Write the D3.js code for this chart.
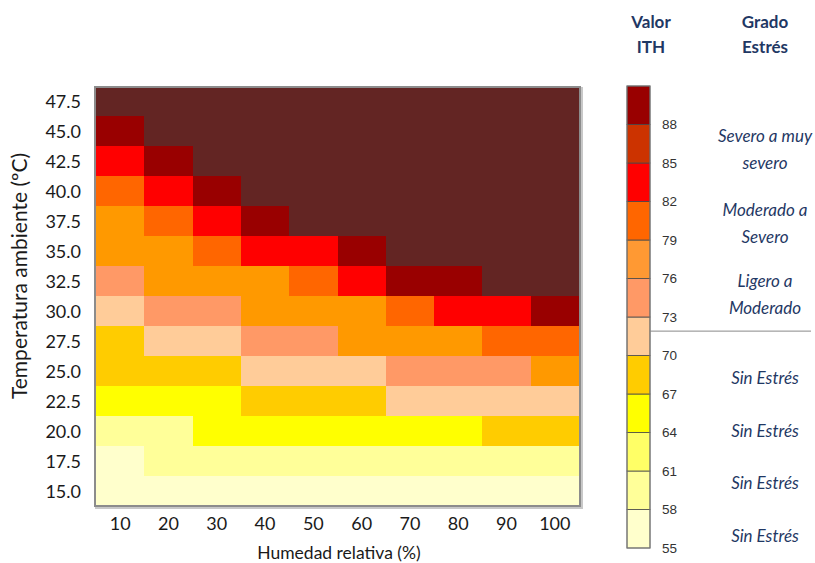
<!DOCTYPE html>
<html>
<head>
<meta charset="utf-8">
<script src="https://cdn.jsdelivr.net/npm/d3@7"></script>
<style>
  body { margin: 0; background: #fff; }
  svg { display: block; }
</style>
</head>
<body>
<div id="chart"></div>
<script>
// humidity (%) columns and temperature (ºC) rows, bottom to top
var humidity = [10, 20, 30, 40, 50, 60, 70, 80, 90, 100];
var temps = [15.0, 17.5, 20.0, 22.5, 25.0, 27.5, 30.0, 32.5, 35.0, 37.5, 40.0, 42.5, 45.0, 47.5];

// colour classes used in the heat map (lowest to highest ITH)
var heatColors = ["#ffffcc", "#ffff99", "#ffff00", "#ffcc00", "#ffcc99", "#ff9966",
                  "#ff9900", "#ff6600", "#ff0000", "#990000", "#632523"];

// class index per cell, one row per temperature (same order as temps)
var levels = [
  [0, 0, 0, 0, 0, 0, 0, 0, 0, 0],
  [0, 1, 1, 1, 1, 1, 1, 1, 1, 1],
  [1, 1, 2, 2, 2, 2, 2, 2, 3, 3],
  [2, 2, 2, 3, 3, 3, 4, 4, 4, 4],
  [3, 3, 3, 4, 4, 4, 5, 5, 5, 6],
  [3, 4, 4, 5, 5, 6, 6, 6, 7, 7],
  [4, 5, 5, 6, 6, 6, 7, 8, 8, 9],
  [5, 6, 6, 6, 7, 8, 9, 9, 10, 10],
  [6, 6, 7, 8, 8, 9, 10, 10, 10, 10],
  [6, 7, 8, 9, 10, 10, 10, 10, 10, 10],
  [7, 8, 9, 10, 10, 10, 10, 10, 10, 10],
  [8, 9, 10, 10, 10, 10, 10, 10, 10, 10],
  [9, 10, 10, 10, 10, 10, 10, 10, 10, 10],
  [10, 10, 10, 10, 10, 10, 10, 10, 10, 10]
];

// ITH legend
var ithBreaks = [55, 58, 61, 64, 67, 70, 73, 76, 79, 82, 85, 88, 91];
var ithTicks = [55, 58, 61, 64, 67, 70, 73, 76, 79, 82, 85, 88];
var ithColors = ["#ffffcc", "#ffff99", "#ffff66", "#ffff00", "#ffcc00", "#ffcc99",
                 "#ff9966", "#ff9933", "#ff6600", "#ff0000", "#cc3300", "#990000"];

// stress grade labels: [text lines, ITH position]
var stressLabels = [
  { lines: ["Severo a muy", "severo"], at: 86.0 },
  { lines: ["Moderado a", "Severo"], at: 80.25 },
  { lines: ["Ligero a", "Moderado"], at: 74.7 },
  { lines: ["Sin Estrés"], at: 68.2 },
  { lines: ["Sin Estrés"], at: 64.1 },
  { lines: ["Sin Estrés"], at: 60.05 },
  { lines: ["Sin Estrés"], at: 55.9 }
];

var width = 815, height = 563;
var svg = d3.select("#chart").append("svg").attr("width", width).attr("height", height);

var plot = { left: 96, right: 579, top: 88, bottom: 505 };

var xscale = d3.scaleBand().domain(humidity).range([plot.left, plot.right]);
var yscale = d3.scaleBand().domain(temps).range([plot.bottom, plot.bottom - temps.length * 30]);

// frame shadow
svg.append("rect")
  .attr("x", plot.left - 1).attr("y", plot.top - 1)
  .attr("width", plot.right - plot.left + 5).attr("height", plot.bottom - plot.top + 5)
  .attr("fill", "#c8c8c8");

svg.append("clipPath").attr("id", "clip").append("rect")
  .attr("x", plot.left).attr("y", plot.top)
  .attr("width", plot.right - plot.left).attr("height", plot.bottom - plot.top);

var cells = [];
temps.forEach(function(t, i)
{
  humidity.forEach(function(h, j)
  {
    cells.push({ t: t, h: h, level: levels[i][j] });
  });
});

svg.append("g").attr("clip-path", "url(#clip)").attr("shape-rendering", "crispEdges")
  .selectAll("rect").data(cells).enter().append("rect")
  .attr("x", function(d) { return xscale(d.h); })
  .attr("y", function(d) { return yscale(d.t); })
  .attr("width", xscale.bandwidth() + 1)
  .attr("height", yscale.bandwidth() + 1)
  .attr("fill", function(d) { return heatColors[d.level]; });

svg.append("rect")
  .attr("x", plot.left - 1).attr("y", plot.top - 1)
  .attr("width", plot.right - plot.left + 2).attr("height", plot.bottom - plot.top + 2)
  .attr("fill", "none").attr("stroke", "#8c8c8c").attr("stroke-width", 2);

// tick labels
svg.append("g").selectAll("text").data(temps).enter().append("text")
  .attr("x", 81)
  .attr("y", function(d) { return yscale(d) + yscale.bandwidth() / 2 + 3; })
  .attr("text-anchor", "end").attr("dominant-baseline", "middle")
  .attr("font-family", "Lato, sans-serif").attr("font-size", 18).attr("fill", "#1a1a1a")
  .text(function(d) { return d.toFixed(1); });

svg.append("g").selectAll("text").data(humidity).enter().append("text")
  .attr("x", function(d) { return xscale(d) + xscale.bandwidth() / 2; })
  .attr("y", 530)
  .attr("text-anchor", "middle")
  .attr("font-family", "Lato, sans-serif").attr("font-size", 18).attr("fill", "#1a1a1a")
  .text(function(d) { return d; });

svg.append("text")
  .attr("x", 339).attr("y", 559)
  .attr("text-anchor", "middle")
  .attr("font-family", "Lato, sans-serif").attr("font-size", 17.5).attr("fill", "#1a1a1a")
  .text("Humedad relativa (%)");

svg.append("text")
  .attr("transform", "translate(27,276) rotate(-90)")
  .attr("text-anchor", "middle")
  .attr("font-family", "Lato, sans-serif").attr("font-size", 21).attr("fill", "#1a1a1a")
  .text("Temperatura ambiente (ºC)");

// legend colour bar
var lscale = d3.scaleLinear().domain([55, 91]).range([548, 86]);
var barX = 627, barW = 23;

var bands = d3.range(ithColors.length).map(function(i)
{
  return { lo: ithBreaks[i], hi: ithBreaks[i + 1], color: ithColors[i] };
});

svg.append("g").selectAll("rect").data(bands).enter().append("rect")
  .attr("x", barX)
  .attr("y", function(d) { return lscale(d.hi); })
  .attr("width", barW)
  .attr("height", function(d) { return lscale(d.lo) - lscale(d.hi); })
  .attr("fill", function(d) { return d.color; })
  .attr("stroke", "#4a4a4a").attr("stroke-width", 0.8);

svg.append("rect")
  .attr("x", barX).attr("y", lscale(91))
  .attr("width", barW).attr("height", lscale(55) - lscale(91))
  .attr("fill", "none").attr("stroke", "#7a7a7a").attr("stroke-width", 1);

svg.append("g").selectAll("text").data(ithTicks).enter().append("text")
  .attr("x", 662)
  .attr("y", function(d) { return lscale(d) + 1; })
  .attr("dominant-baseline", "middle")
  .attr("font-family", "Liberation Sans, Arial, sans-serif").attr("font-size", 13.5).attr("fill", "#333")
  .text(function(d) { return d; });

// separator between stress and no stress
svg.append("line")
  .attr("x1", barX + barW).attr("x2", 811)
  .attr("y1", lscale(71.9)).attr("y2", lscale(71.9))
  .attr("stroke", "#888").attr("stroke-width", 1);

// headers
var headers = [
  { x: 651, lines: ["Valor", "ITH"] },
  { x: 765, lines: ["Grado", "Estrés"] }
];
headers.forEach(function(hd)
{
  hd.lines.forEach(function(s, k)
  {
    svg.append("text")
      .attr("x", hd.x).attr("y", 28 + k * 25)
      .attr("text-anchor", "middle")
      .attr("font-family", "Lato, sans-serif").attr("font-weight", "bold")
      .attr("font-size", 17).attr("fill", "#1f3864")
      .text(s);
  });
});

// stress labels
stressLabels.forEach(function(lb)
{
  var gap = 27;
  var y0 = lscale(lb.at) - (lb.lines.length - 1) * gap / 2;
  lb.lines.forEach(function(s, k)
  {
    svg.append("text")
      .attr("x", 765).attr("y", y0 + k * gap + 1)
      .attr("text-anchor", "middle").attr("dominant-baseline", "middle")
      .attr("font-family", "Lato, sans-serif").attr("font-style", "italic")
      .attr("font-size", 17).attr("fill", "#1f3864")
      .text(s);
  });
});
</script>
</body>
</html>
